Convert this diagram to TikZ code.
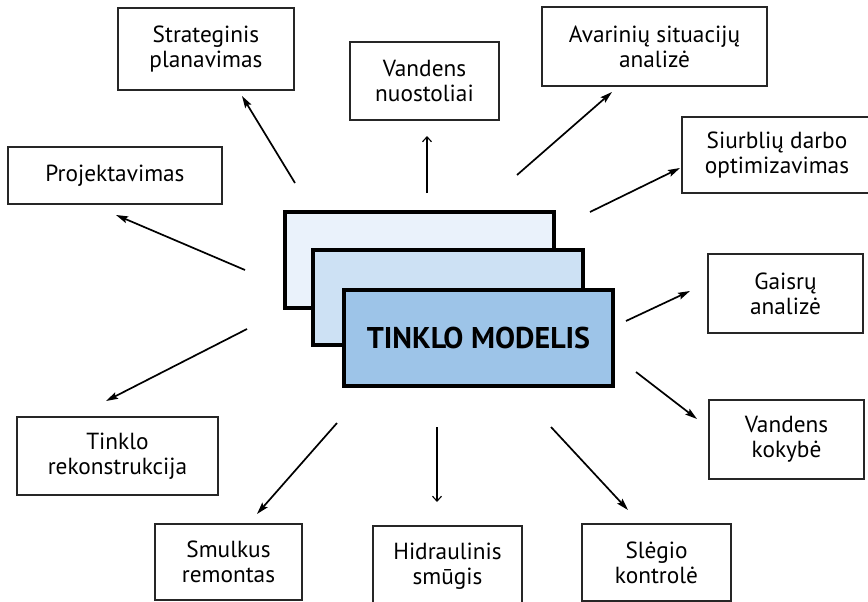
\documentclass[tikz,border=0pt]{standalone}
\usepackage{fontspec}
\setmainfont{PT Sans}
\usetikzlibrary{arrows.meta}
\definecolor{backfill}{HTML}{EAF2FB}
\definecolor{midfill}{HTML}{CDE1F4}
\definecolor{frontfill}{HTML}{9DC4E8}
\tikzset{
  topic/.style={draw=black!85, line width=1.2pt, fill=white, inner sep=0pt, align=center,
    font=\fontsize{23.3}{25}\selectfont},
  layer/.style={draw=black, line width=3.8pt, inner sep=0pt},
  arr/.style={line width=1.7pt, -{Stealth[length=12pt,width=7pt,inset=2pt]}},
  varr/.style={line width=1.7pt, -{Straight Barb[length=5pt,width=9pt,line width=1.1pt]}},
}
\begin{document}
\begin{tikzpicture}[x=1pt,y=-1pt]
\clip (0,0) rectangle (868,602);
\fill[white] (0,0) rectangle (868,602);

% central stack
\node[layer, fill=backfill, minimum width=269, minimum height=96] (back) at (419.5,260) {};
\node[layer, fill=midfill, minimum width=270, minimum height=95] (mid) at (448,297.5) {};
\node[layer, fill=frontfill, minimum width=269, minimum height=96,
  font=\fontsize{30}{32}\selectfont\bfseries] (front) at (478.5,338) {TINKLO MODELIS};

% topic boxes
\node[topic, minimum width=176, minimum height=82] (strat) at (206,49) {Strateginis\\planavimas};
\node[topic, minimum width=149, minimum height=78] (vnuo) at (424.5,81) {Vandens\\nuostoliai};
\node[topic, minimum width=225, minimum height=79] (avar) at (654.5,46.5) {Avarinių situacijų\\analizė};
\node[topic, minimum width=190, minimum height=76] (siur) at (777,155) {Siurblių darbo\\optimizavimas};
\node[topic, minimum width=214, minimum height=57] (proj) at (115,175.5) {Projektavimas};
\node[topic, minimum width=155, minimum height=79] (gais) at (785.5,293.5) {Gaisrų\\analizė};
\node[topic, minimum width=155, minimum height=79] (vkok) at (786.5,439.5) {Vandens\\kokybė};
\node[topic, minimum width=201, minimum height=78] (tink) at (117.5,456) {Tinklo\\rekonstrukcija};
\node[topic, minimum width=147, minimum height=76] (smul) at (228.5,562) {Smulkus\\remontas};
\node[topic, minimum width=149, minimum height=80] (hidr) at (447.5,566) {Hidraulinis\\smūgis};
\node[topic, minimum width=149, minimum height=77] (sleg) at (656.5,562.5) {Slėgio\\kontrolė};

% arrow end points
\coordinate (t1) at (295,183); \coordinate (h1) at (242,96);
\coordinate (t2) at (427,193); \coordinate (h2) at (427,136);
\coordinate (t3) at (245,270); \coordinate (h3) at (116,215);
\coordinate (t4) at (517,175); \coordinate (h4) at (612,92);
\coordinate (t5) at (590,212); \coordinate (h5) at (680,168);
\coordinate (t6) at (626,321); \coordinate (h6) at (690,291);
\coordinate (t7) at (636,372); \coordinate (h7) at (697,419);
\coordinate (t8) at (551,427); \coordinate (h8) at (628,510);
\coordinate (t9) at (437,427); \coordinate (h9) at (437,502);
\coordinate (t10) at (247,329); \coordinate (h10) at (106,401);
\coordinate (t11) at (337,423); \coordinate (h11) at (257,514);

\draw[arr] (t1) -- (h1);
\draw[varr] (t2) -- (h2);
\draw[arr] (t3) -- (h3);
\draw[arr] (t4) -- (h4);
\draw[arr] (t5) -- (h5);
\draw[arr] (t6) -- (h6);
\draw[arr] (t7) -- (h7);
\draw[arr] (t8) -- (h8);
\draw[varr] (t9) -- (h9);
\draw[arr] (t10) -- (h10);
\draw[arr] (t11) -- (h11);
\end{tikzpicture}
\end{document}
